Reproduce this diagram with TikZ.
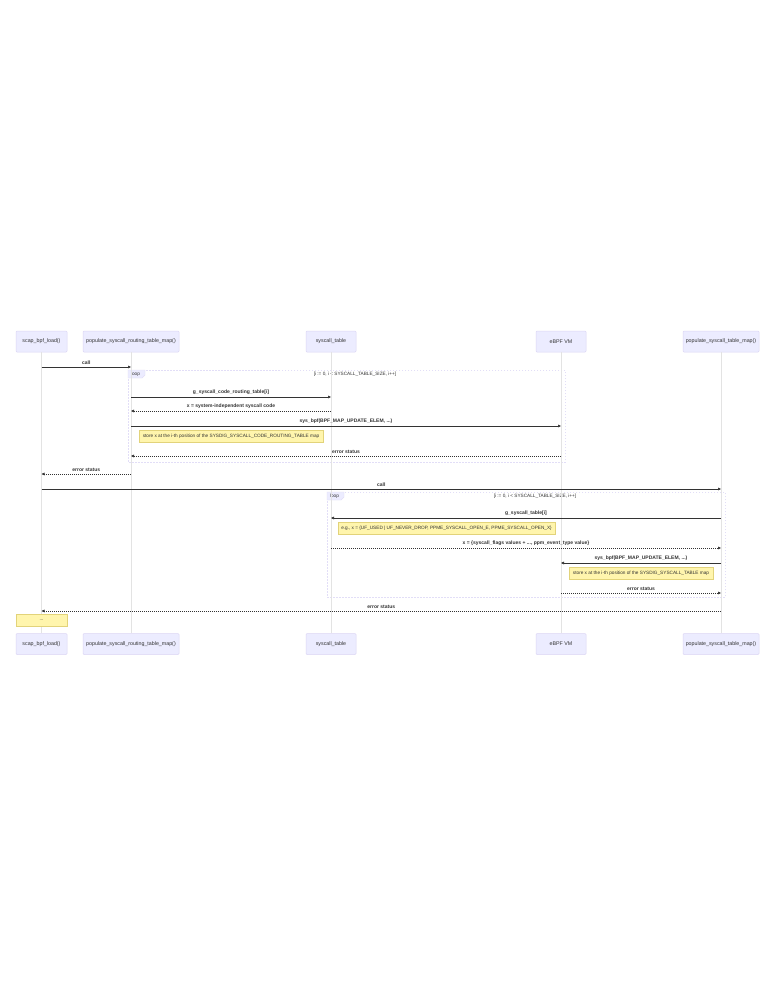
\documentclass[tikz,border=0pt]{standalone}
\usepackage{fontspec}
\setmainfont{Liberation Sans}
\usetikzlibrary{arrows.meta}
\definecolor{actorfill}{HTML}{ECECFF}
\definecolor{actorline}{HTML}{DCD6F4}
\definecolor{txt}{HTML}{333333}
\definecolor{notefill}{HTML}{FFF5AD}
\definecolor{noteline}{HTML}{E2D37A}
\definecolor{life}{HTML}{E3E3E3}
\definecolor{loopline}{HTML}{E2DEF7}
\begin{document}
\begin{tikzpicture}[x=1pt,y=-1pt,
 actor/.style={draw=actorline, fill=actorfill, line width=0.5pt, rounded corners=1pt, minimum height=21pt, inner sep=0pt, text=txt, font=\fontsize{5.3}{6}\selectfont},
 lifeline/.style={draw=life, line width=0.6pt},
 msg/.style={draw=txt, line width=0.55pt, -{Triangle[length=3pt,width=2.6pt]}},
 reply/.style={msg, dash pattern=on 1pt off 1pt},
 lbl/.style={text=txt, font=\fontsize{5}{6}\selectfont\bfseries, inner sep=0pt, above=2pt},
 note/.style={draw=noteline, fill=notefill, line width=0.5pt, inner sep=0pt, minimum height=12pt, text=txt, font=\fontsize{4.7}{5}\selectfont},
 loopframe/.style={draw=loopline, line width=0.6pt, dash pattern=on 1.5pt off 1.5pt},
 looptab/.style={fill=actorfill, draw=loopline, line width=0.4pt},
 looptxt/.style={text=txt, font=\fontsize{4.7}{5}\selectfont, inner sep=0pt}]

\fill[white] (0,0) rectangle (784,983);
\useasboundingbox (0,0) rectangle (784,983);

% loop frames
\draw[loopframe] (128,370) rectangle (565,462);
\draw[looptab] (128,370) -- (145,370) -- (145,375) -- (142,378) -- (128,378) -- cycle;
\node[looptxt] (lp1) at (135.5,374) {loop};
\node[looptxt] (c1) at (355,374.5) {[i := 0, i < SYSCALL\_TABLE\_SIZE, i++]};

\draw[loopframe] (327,492) rectangle (725,597);
\draw[looptab] (327,492) -- (344,492) -- (344,497) -- (341,500) -- (327,500) -- cycle;
\node[looptxt] (lp2) at (334.5,496) {loop};
\node[looptxt] (c2) at (535,496.5) {[i := 0, i < SYSCALL\_TABLE\_SIZE, i++]};

% actors
\node[actor, minimum width=51pt] (ta) at (41.5,341.5) {scap\_bpf\_load()};
\node[actor, minimum width=96pt] (tb) at (131,341.5) {populate\_syscall\_routing\_table\_map()};
\node[actor, minimum width=50pt] (tc) at (331,341.5) {syscall\_table};
\node[actor, minimum width=50pt] (td) at (561,341.5) {eBPF VM};
\node[actor, minimum width=76pt] (te) at (721,341.5) {populate\_syscall\_table\_map()};

\node[actor, minimum width=51pt] (ba) at (41.5,644) {scap\_bpf\_load()};
\node[actor, minimum width=96pt] (bb) at (131,644) {populate\_syscall\_routing\_table\_map()};
\node[actor, minimum width=50pt] (bc) at (331,644) {syscall\_table};
\node[actor, minimum width=50pt] (bd) at (561,644) {eBPF VM};
\node[actor, minimum width=76pt] (be) at (721,644) {populate\_syscall\_table\_map()};

% lifelines
\draw[lifeline] (ta.south) -- (ba.north);
\draw[lifeline] (tb.south) -- (bb.north);
\draw[lifeline] (tc.south) -- (bc.north);
\draw[lifeline] (td.south) -- (bd.north);
\draw[lifeline] (te.south) -- (be.north);

% messages
\draw[msg] (ta |- 0,367) -- node[lbl] {call} (tb |- 0,367);
\draw[msg] (tb |- 0,397) -- node[lbl] {g\_syscall\_code\_routing\_table[i]} (tc |- 0,397);
\draw[reply] (tc |- 0,411) -- node[lbl] {x = system-independent syscall code} (tb |- 0,411);
\draw[msg] (tb |- 0,426) -- node[lbl] {sys\_bpf(BPF\_MAP\_UPDATE\_ELEM, ...)} (td |- 0,426);
\draw[reply] (td |- 0,456) -- node[lbl] {error status} (tb |- 0,456);
\draw[reply] (tb |- 0,474) -- node[lbl] {error status} (ta |- 0,474);
\draw[msg] (ta |- 0,489) -- node[lbl] {call} (te |- 0,489);
\draw[msg] (te |- 0,518) -- node[lbl] {g\_syscall\_table[i]} (tc |- 0,518);
\draw[reply] (tc |- 0,548) -- node[lbl] {x = \{syscall\_flags values + ..., ppm\_event\_type value\}} (te |- 0,548);
\draw[msg] (te |- 0,563) -- node[lbl] {sys\_bpf(BPF\_MAP\_UPDATE\_ELEM, ...)} (td |- 0,563);
\draw[reply] (td |- 0,593) -- node[lbl] {error status} (te |- 0,593);
\draw[reply] (te |- 0,611) -- node[lbl] {error status} (ta |- 0,611);

% notes
\node[note, minimum width=184pt] (n1) at (231,436) {store x at the i-th position of the SYSDIG\_SYSCALL\_CODE\_ROUTING\_TABLE map};
\node[note, minimum width=217pt] (n2) at (446.5,528) {e.g., x = \{UF\_USED | UF\_NEVER\_DROP, PPME\_SYSCALL\_OPEN\_E, PPME\_SYSCALL\_OPEN\_X\}};
\node[note, minimum width=144pt] (n3) at (641,573) {store x at the i-th position of the SYSDIG\_SYSCALL\_TABLE map};
\node[note, minimum width=51pt] (n4) at (41.5,620) {...};
\end{tikzpicture}
\end{document}
